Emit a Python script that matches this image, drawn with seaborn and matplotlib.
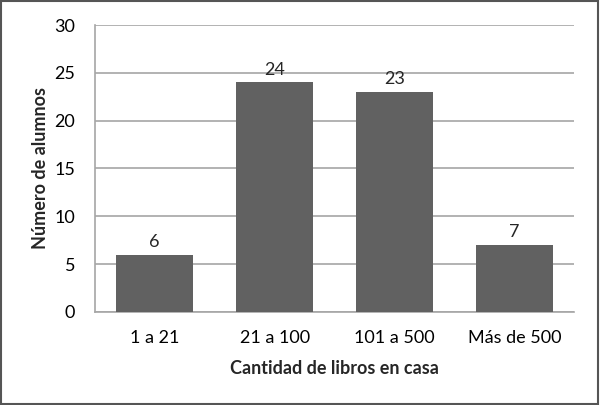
import numpy as np
import pandas as pd
import matplotlib as mpl
mpl.use("Agg")
import matplotlib.pyplot as plt
import seaborn as sns
from matplotlib.patches import Rectangle

categorias = ["1 a 21", "21 a 100", "101 a 500", "Más de 500"]
alumnos = [6, 24, 23, 7]

sns.set_theme(style="white")
plt.rcParams["font.family"] = ["Lato", "DejaVu Sans"]

df = pd.DataFrame({"cat": categorias, "n": alumnos})

fig = plt.figure(figsize=(6, 4.05), dpi=100)
ax = fig.add_axes([0.158, 0.23, 0.799, 0.708])

sns.barplot(data=df, x="cat", y="n", color="#616161", saturation=1,
            width=0.64, ax=ax, zorder=3, edgecolor="none")

ax.set_ylim(0, 30)
ax.set_yticks(range(0, 31, 5))
ax.yaxis.grid(True, color="#a6a6a6", linewidth=1.2, zorder=0)
ax.set_axisbelow(True)
for s in ["top", "right"]:
    ax.spines[s].set_visible(False)
for s in ["left", "bottom"]:
    ax.spines[s].set_color("#a6a6a6")
    ax.spines[s].set_linewidth(1.2)
ax.tick_params(axis="both", length=0, labelsize=13, colors="black")
ax.tick_params(axis="x", pad=13)
ax.tick_params(axis="y", pad=14)

for i, v in enumerate(alumnos):
    ax.text(i, v + 0.5, str(v), ha="center", va="bottom", fontsize=13)

ax.set_xlabel("Cantidad de libros en casa", fontsize=13, fontweight="bold", labelpad=10)
ax.set_ylabel("Número de alumnos", fontsize=13, fontweight="bold", labelpad=4)

fig.patches.append(Rectangle((0.002, 0.003), 0.995, 0.994, transform=fig.transFigure,
                             fill=False, edgecolor="#555555", linewidth=1.5))

fig.savefig("out.png", dpi=100)
